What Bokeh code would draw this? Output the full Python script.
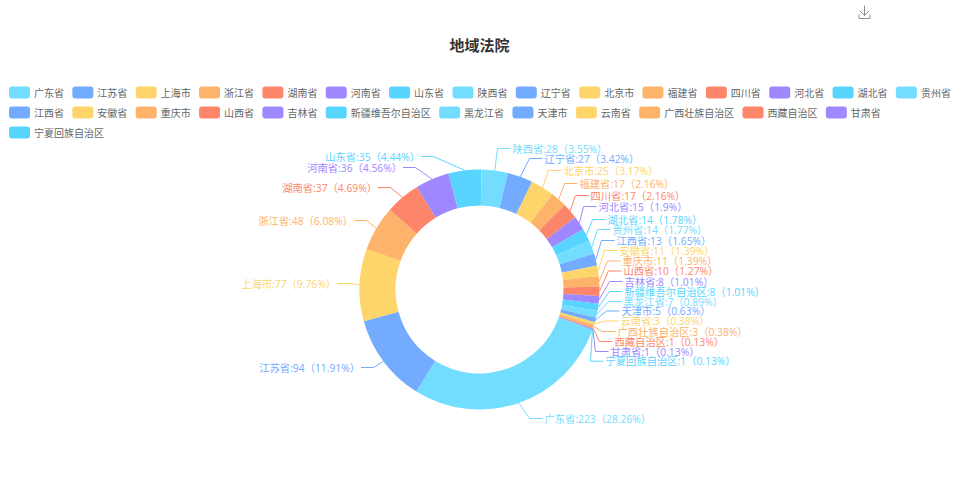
import math
from bokeh.plotting import figure
from bokeh.core.properties import value
from bokeh.embed import file_html
from bokeh.resources import INLINE

names = ["广东省","江苏省","上海市","浙江省","湖南省","河南省","山东省","陕西省","辽宁省","北京市","福建省","四川省","河北省","湖北省","贵州省","江西省","安徽省","重庆市","山西省","吉林省","新疆维吾尔自治区","黑龙江省","天津市","云南省","广西壮族自治区","西藏自治区","甘肃省","宁夏回族自治区"]
counts = [223,94,77,48,37,36,35,28,27,25,17,17,15,14,14,13,11,11,10,8,8,7,5,3,3,1,1,1]
percents = ["28.26","11.91","9.76","6.08","4.69","4.56","4.44","3.55","3.42","3.17","2.16","2.16","1.9","1.78","1.77","1.65","1.39","1.39","1.27","1.01","1.01","0.89","0.63","0.38","0.38","0.13","0.13","0.13"]
palette = ["#73DDFF","#73ACFF","#FDD56A","#FDB36A","#FD866A","#9E87FF","#58D5FF"]

# Layout (reference pixels): where the pie-label layout put each label
label_x = [545,360.5,336.5,353.5,377.5,402.5,420.5,513,545,564,580,591,599,608,613,617,620,623,624,625,625,624,622,621,618,615,611,606]
label_y = [419,368,284,221,188,168,157,149,159,171,184,196,207,220,230,241,251,261.5,271.5,282,292,302,311.5,321.5,332,342,352,361.7]
# Leader elbows stay where the reference has them, so left-side labels sit closer to their lines
LEADER_TIP = 1
LEADER_RUN = 12.5

W, H = 959, 500
FONT = "Noto Sans CJK SC"
LABEL_FONT = "Open Sans, Noto Sans CJK SC"
CX, CY, R_OUT, R_IN = 480, 290, 120, 84
START = 20  # degrees clockwise from east
Y = lambda y: H - y
OFF = 1

p = figure(width=951, height=492, x_range=(OFF, 951 + OFF), y_range=(Y(492 + OFF), Y(OFF)),
           output_backend="svg", toolbar_location=None, min_border=0)
p.axis.visible = False
p.grid.visible = False
p.outline_line_color = None

colors = [palette[i % len(palette)] for i in range(len(names))]
total = sum(counts)

# Title
p.text([480], [Y(44.5)], text=["地域法院"], text_font=value(FONT), text_font_size="15px",
       text_font_style="bold", text_color="#333333", text_align="center", text_baseline="middle")

# Download icon
p.multi_line([[859.5,859.5,870.5,870.5],[865,865],[860.5,865,869.5]],
             [[Y(15),Y(19),Y(19),Y(15)],[Y(6),Y(16)],[Y(11.5),Y(16),Y(11.5)]],
             line_color="#8c8c8c", line_width=1)

# Legend (flowed)
lx, row = 9.5, 0
sl, sr, st, sb, tx, ty, cl = [], [], [], [], [], [], []
for i, n in enumerate(names):
    w = 25 + len(n) * 10
    if lx + w > 955:
        lx, row = 9.5, row + 1
    yc = 93 + row * 20
    sl.append(lx); sr.append(lx + 21); st.append(Y(yc - 6)); sb.append(Y(yc + 6))
    tx.append(lx + 25); ty.append(Y(yc)); cl.append(colors[i])
    lx += w + 8.35
p.quad(left=sl, right=sr, top=st, bottom=sb, fill_color=cl, line_color=None, border_radius=3)
p.text(tx, ty, text=names, text_font=value(FONT), text_font_size="10px", text_color="#666666",
       text_align="left", text_baseline="middle")

# Donut
cum = 0
starts, ends, mids = [], [], []
for c in counts:
    a0 = START + cum / total * 360
    a1 = START + (cum + c) / total * 360
    starts.append(math.radians(-a0)); ends.append(math.radians(-a1)); mids.append(math.radians((a0 + a1) / 2))
    cum += c
p.annular_wedge([CX] * len(counts), [Y(CY)] * len(counts), inner_radius=R_IN, outer_radius=R_OUT,
                start_angle=starts, end_angle=ends, direction="clock", fill_color=colors, line_color=None)

# Leader lines and labels
lxs, lys = [], []
for i, m in enumerate(mids):
    x0 = CX + R_OUT * math.cos(m)
    y0 = CY + R_OUT * math.sin(m)
    right = math.cos(m) > 0
    ax, ay = label_x[i], label_y[i]
    if right:
        xs = [x0, ax - 15, ax - 2]
    else:
        xs = [x0, ax + LEADER_TIP + LEADER_RUN, ax + LEADER_TIP]
    lxs.append(xs)
    lys.append([Y(y0), Y(ay), Y(ay)])
p.multi_line(lxs, lys, line_color=colors, line_width=1)

texts = [f"{n}:{c}（{d}%）" for n, c, d in zip(names, counts, percents)]
for i, t in enumerate(texts):
    right = math.cos(mids[i]) > 0
    p.text([label_x[i]], [Y(label_y[i])], text=[t], text_font=value(LABEL_FONT), text_font_size="10.3px",
           text_color=colors[i], text_align="left" if right else "right", text_baseline="middle")

open("out.html", "w").write(file_html(p, INLINE))
